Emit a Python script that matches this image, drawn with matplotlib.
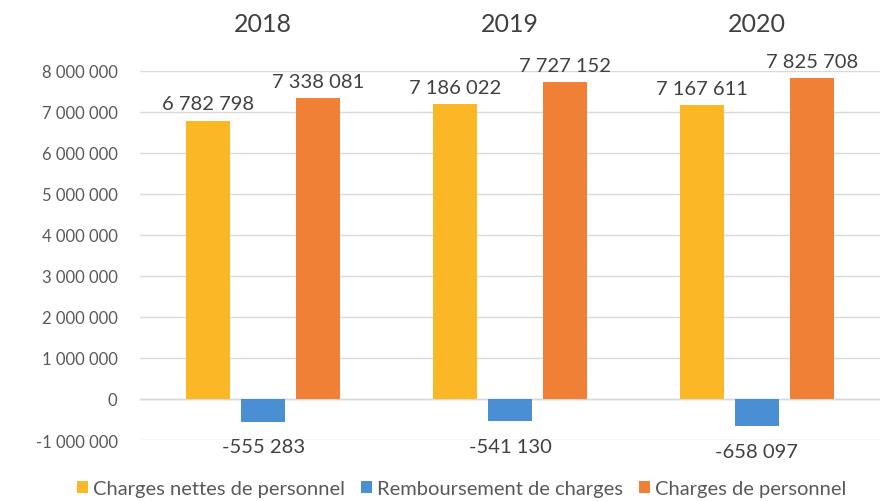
import matplotlib
matplotlib.use("Agg")
import matplotlib.pyplot as plt
import numpy as np

years = ["2018", "2019", "2020"]
series_names = ["Charges nettes de personnel", "Remboursement de charges", "Charges de personnel"]
charges_nettes = [6782798, 7186022, 7167611]
remboursement = [-555283, -541130, -658097]
charges_personnel = [7338081, 7727152, 7825708]
y_ticks = [-1000000, 0, 1000000, 2000000, 3000000, 4000000, 5000000, 6000000, 7000000, 8000000]

colors = ["#FBB725", "#4A8FD3", "#F08036"]
txt = "#595959"

plt.rcParams['font.family'] = ['Lato', 'DejaVu Sans']

def fmt(v):
    s = f"{abs(int(v)):,}".replace(",", " ")
    return ("-" if v < 0 else "") + s

fig = plt.figure(figsize=(8.9, 5.02), dpi=100)
ax = fig.add_axes([0.157, 0.1215, 0.832, 0.7355])

x = np.arange(len(years))
w = 0.178
off = 0.223
data = [charges_nettes, remboursement, charges_personnel]
for i, (vals, name, c) in enumerate(zip(data, series_names, colors)):
    bars = ax.bar(x + (i - 1) * off, vals, w, color=c, label=name, zorder=3)
    for b, v in zip(bars, vals):
        xc = b.get_x() + b.get_width() / 2
        if v >= 0:
            ax.annotate(fmt(v), (xc, v), xytext=(0, 6), textcoords="offset points",
                        ha="center", va="bottom", fontsize=14.5, color="#404040")
        else:
            ax.annotate(fmt(v), (xc, v), xytext=(0, -12), textcoords="offset points",
                        ha="center", va="top", fontsize=14.5, color="#404040")

ax.set_xlim(-0.5, 2.5)
ax.set_ylim(-1000000, 8000000)
ax.set_yticks(y_ticks)
ax.set_yticklabels([fmt(v) for v in y_ticks], fontsize=12, color=txt)
ax.grid(axis="y", color="#d9d9d9", linewidth=1, zorder=0)
ax.axhline(0, color="#d0d0d0", linewidth=1, zorder=1)
for s in ax.spines.values():
    s.set_visible(False)
ax.tick_params(axis="y", length=0, pad=16)
ax.xaxis.tick_top()
ax.set_xticks(x)
ax.set_xticklabels(years, fontsize=18, color="#404040")
ax.tick_params(axis="x", length=0, pad=26)

leg = ax.legend(loc="upper center", bbox_to_anchor=(0.435, -0.06), ncol=3, frameon=False,
                fontsize=14.5, handlelength=0.55, handleheight=0.55, handletextpad=0.25,
                columnspacing=0.8, labelcolor=txt)

fig.savefig("out.png", dpi=100)
